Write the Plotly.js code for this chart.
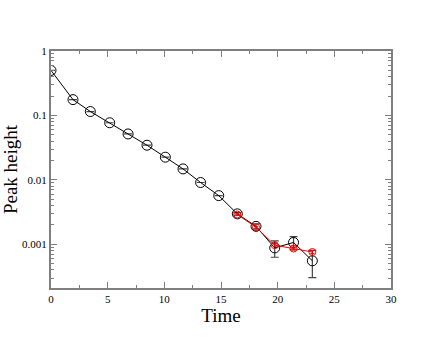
<!DOCTYPE html>
<html>
<head>
<meta charset="utf-8">
<script src="https://cdn.plot.ly/plotly-3.0.1.min.js"></script>
<style>html,body{margin:0;padding:0;background:#fff;}#chart{width:440px;height:340px;}</style>
</head>
<body>
<div id="chart"></div>
<script>
// Black series (main curve)
const timeBlack = [0, 1.94, 3.47, 5.18, 6.8, 8.47, 10.09, 11.65, 13.2, 14.8, 16.44, 18.09, 19.74, 21.4, 23.06];
const peakBlack = [0.5, 0.176, 0.115, 0.077, 0.0516, 0.0345, 0.0225, 0.0148, 0.0091, 0.0057, 0.00297, 0.0019, 0.00088, 0.00107, 0.000555];
const errBlack  = [0, 0, 0, 0, 0, 0, 0, 0, 0, 0, 0.00013, 0.00018, 0.00025, 0.00025, 0.00025];
// Red series
const timeRed = [16.44, 18.09, 19.74, 21.4, 23.06];
const peakRed = [0.0029, 0.00184, 0.00097, 0.00086, 0.00076];
const errRed  = [0.00008, 0.00006, 0.00004, 0.00004, 0.00004];

const xTicks = [0, 5, 10, 15, 20, 25, 30];
const yTickVals = [0.001, 0.01, 0.1, 1];
const yTickText = ['0.001', '0.01', '0.1', '1'];

const traces = [
  {
    x: timeBlack, y: peakBlack, type: 'scatter', mode: 'lines+markers',
    line: {color: '#000', width: 1},
    marker: {symbol: 'circle-open', size: 10, color: '#000', line: {width: 1}},
    error_y: {type: 'data', array: errBlack, visible: true, color: '#444', thickness: 1.2, width: 4},
    showlegend: false
  },
  {
    x: timeRed, y: peakRed, type: 'scatter', mode: 'lines+markers',
    line: {color: '#ff0000', width: 1},
    marker: {symbol: 'circle-open', size: 7, color: '#ff0000', line: {width: 1}},
    error_y: {type: 'data', array: errRed, visible: true, color: '#ff0000', thickness: 1, width: 2},
    showlegend: false
  }
];

const axisCommon = {
  showgrid: false, zeroline: false,
  showline: true, linecolor: '#7f7f7f', linewidth: 2, mirror: 'ticks',
  ticks: 'inside', ticklen: 6, tickwidth: 1, tickcolor: '#7f7f7f',
  tickfont: {family: 'Liberation Serif, Times New Roman, serif', size: 11, color: '#000'}
};

const layout = {
  width: 440, height: 340,
  margin: {l: 51, r: 49, t: 51, b: 52},
  paper_bgcolor: '#fff', plot_bgcolor: '#fff',
  xaxis: Object.assign({}, axisCommon, {
    range: [0, 30], tickvals: xTicks, ticktext: xTicks.map(String),
    minor: {ticks: 'inside', ticklen: 3, dtick: 2.5, tickcolor: '#7f7f7f'},
    title: {text: 'Time', font: {family: 'Liberation Serif, Times New Roman, serif', size: 19, color: '#000'}, standoff: 2}
  }),
  yaxis: Object.assign({}, axisCommon, {
    type: 'log', range: [Math.log10(0.00021), 0],
    tickvals: yTickVals, ticktext: yTickText,
    minor: {ticks: 'inside', ticklen: 3, tickcolor: '#7f7f7f',
      tickvals: [0.0003,0.0004,0.0005,0.0006,0.0007,0.0008,0.0009,
                 0.002,0.003,0.004,0.005,0.006,0.007,0.008,0.009,
                 0.02,0.03,0.04,0.05,0.06,0.07,0.08,0.09,
                 0.2,0.3,0.4,0.5,0.6,0.7,0.8,0.9]},
    title: {text: 'Peak height', font: {family: 'Liberation Serif, Times New Roman, serif', size: 19, color: '#000'}, standoff: 4}
  })
};

Plotly.newPlot('chart', traces, layout, {displayModeBar: false, staticPlot: true});
</script>
</body>
</html>
